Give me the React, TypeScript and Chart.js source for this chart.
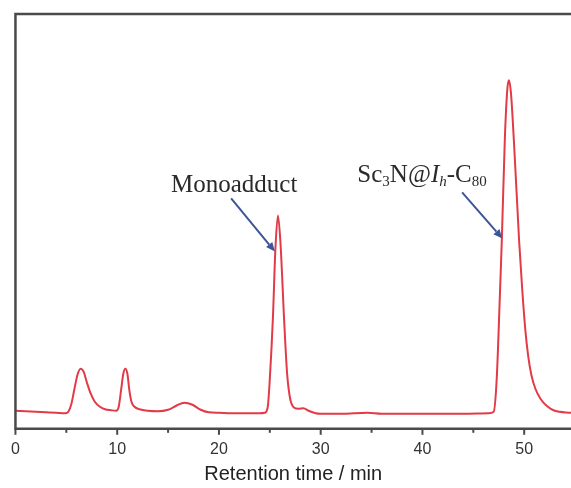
import React, { useEffect, useRef } from "react";
import { Chart, registerables } from "chart.js";

Chart.register(...registerables);

// Retention time (min)
const times = [0,1,2,3,4,4.9,5.2,5.5,5.8,6.1,6.4,6.7,7.0,7.4,7.8,8.3,8.8,9.4,9.9,10.15,10.4,10.6,10.8,11.0,11.2,11.4,11.7,12.2,13,14,15,15.8,16.6,17.4,18.2,19,20,22,24,24.5,24.8,25.0,25.3,25.55,25.8,26.05,26.4,26.7,27.0,27.4,27.8,28.3,28.8,29.5,30,32,34.6,36,40,44,46.5,47.0,47.3,47.6,47.8,48.1,48.35,48.5,48.7,49.0,49.5,49.8,50.1,50.4,50.7,51.1,51.6,52.2,53.0,54.6];
// Detector signal (a.u.)
const signal = [18,17.5,17,16.5,16,15.5,17,25,40,54,60,57,47,35,27,22,19.5,18.5,18,22,40,55,60,55,38,27,22,19.5,18,17.5,19,23,26,24,19,16.5,16,15.5,15.5,16,22,50,110,180,213,185,110,55,30,21,20,20.5,18,15.5,15,15,16,15,15,15,15.5,17,50,130,188,290,340,348,335,285,188,140,100,72,54,40,30,23,18,16];

const xTicksMajor = [0, 10, 20, 30, 40, 50];
const xTicksMinor = [5, 15, 25, 35, 45];

// Annotations: label position and arrow (data coordinates)
const annoMono = { text: "Monoadduct", x: 21.5, y: 243, ax0: 21.2, ay0: 230, ax1: 25.5, ay1: 177 };
const annoSc = { x: 33.6, y: 254, ax0: 43.9, ay0: 236, ax1: 47.85, ay1: 190 };

const AXIS_COLOR = "#4a4a4a";
const ARROW_COLOR = "#3c5596";
const TEXT_COLOR = "#2a2a2a";

function drawArrow(ctx: CanvasRenderingContext2D, x0: number, y0: number, x1: number, y1: number) {
  ctx.save();
  ctx.strokeStyle = ARROW_COLOR;
  ctx.fillStyle = ARROW_COLOR;
  ctx.lineWidth = 2;
  const ang = Math.atan2(y1 - y0, x1 - x0);
  const hl = 9;
  const hw = 4;
  const bx = x1 - hl * Math.cos(ang);
  const by = y1 - hl * Math.sin(ang);
  ctx.beginPath();
  ctx.moveTo(x0, y0);
  ctx.lineTo(bx, by);
  ctx.stroke();
  ctx.beginPath();
  ctx.moveTo(x1, y1);
  ctx.lineTo(bx + hw * Math.sin(ang), by - hw * Math.cos(ang));
  ctx.lineTo(bx - hw * Math.sin(ang), by + hw * Math.cos(ang));
  ctx.closePath();
  ctx.fill();
  ctx.restore();
}

const framePlugin = {
  id: "framePlugin",
  afterDraw(chart: any) {
    const ctx: CanvasRenderingContext2D = chart.ctx;
    const { left, top, right, bottom } = chart.chartArea;
    const xs = chart.scales.x;
    const ys = chart.scales.y;
    ctx.save();
    ctx.strokeStyle = AXIS_COLOR;
    ctx.lineWidth = 2.5;
    ctx.beginPath();
    ctx.moveTo(left, bottom + 1);
    ctx.lineTo(left, top);
    ctx.lineTo(right + 5, top);
    ctx.moveTo(left - 1, bottom);
    ctx.lineTo(right + 5, bottom);
    ctx.stroke();
    ctx.lineWidth = 2;
    for (const v of xTicksMajor) {
      const px = xs.getPixelForValue(v);
      ctx.beginPath();
      ctx.moveTo(px, bottom);
      ctx.lineTo(px, bottom + 6);
      ctx.stroke();
    }
    for (const v of xTicksMinor) {
      const px = xs.getPixelForValue(v);
      ctx.beginPath();
      ctx.moveTo(px, bottom);
      ctx.lineTo(px, bottom + 4);
      ctx.stroke();
    }
    ctx.restore();

    // Monoadduct label
    ctx.save();
    ctx.fillStyle = TEXT_COLOR;
    ctx.font = '25px "Liberation Serif", serif';
    ctx.textAlign = "center";
    ctx.textBaseline = "middle";
    ctx.fillText(annoMono.text, xs.getPixelForValue(annoMono.x), ys.getPixelForValue(annoMono.y));
    ctx.restore();
    drawArrow(ctx, xs.getPixelForValue(annoMono.ax0), ys.getPixelForValue(annoMono.ay0),
      xs.getPixelForValue(annoMono.ax1), ys.getPixelForValue(annoMono.ay1));

    // Sc3N@Ih-C80 label with sub/italic parts
    const parts: { t: string; sub?: boolean; it?: boolean }[] = [
      { t: "Sc" }, { t: "3", sub: true }, { t: "N@" }, { t: "I", it: true },
      { t: "h", sub: true, it: true }, { t: "-C" }, { t: "80", sub: true },
    ];
    ctx.save();
    ctx.fillStyle = TEXT_COLOR;
    ctx.textAlign = "left";
    ctx.textBaseline = "alphabetic";
    let x = xs.getPixelForValue(annoSc.x);
    const base = ys.getPixelForValue(annoSc.y) + 8;
    for (const p of parts) {
      const size = p.sub ? 15 : 25;
      ctx.font = `${p.it ? "italic " : ""}${size}px "Liberation Serif", serif`;
      ctx.fillText(p.t, x, base + (p.sub ? 4 : 0));
      x += ctx.measureText(p.t).width;
    }
    ctx.restore();
    drawArrow(ctx, xs.getPixelForValue(annoSc.ax0), ys.getPixelForValue(annoSc.ay0),
      xs.getPixelForValue(annoSc.ax1), ys.getPixelForValue(annoSc.ay1));
  },
};

export default function App() {
  const ref = useRef<HTMLCanvasElement | null>(null);
  useEffect(() => {
    if (!ref.current) return;
    const chart = new Chart(ref.current, {
      type: "line",
      data: {
        datasets: [
          {
            data: times.map((t, i) => ({ x: t, y: signal[i] })),
            borderColor: "rgb(226,58,70)",
            borderWidth: 2,
            pointRadius: 0,
            cubicInterpolationMode: "monotone",
            fill: false,
          },
        ],
      },
      options: {
        animation: false,
        responsive: false,
        maintainAspectRatio: false,
        layout: { padding: { left: 14, top: 14, right: 0, bottom: 2 } },
        plugins: { legend: { display: false }, tooltip: { enabled: false } },
        scales: {
          x: {
            type: "linear",
            min: 0,
            max: 54.6,
            grid: { display: false, drawTicks: false },
            border: { display: false },
            ticks: {
              stepSize: 10,
              includeBounds: false,
              autoSkip: false,
              maxRotation: 0,
              padding: 11,
              color: "#333",
              font: { family: '"Liberation Sans", Arial, sans-serif', size: 16 },
            },
            title: {
              display: true,
              text: "Retention time / min",
              color: "#222",
              font: { family: '"Liberation Sans", Arial, sans-serif', size: 20 },
              padding: { top: -8, bottom: 0 },
            },
          },
          y: {
            display: false,
            min: 0,
            max: 414,
          },
        },
      },
      plugins: [framePlugin],
    });
    return () => chart.destroy();
  }, []);
  return (
    <div style={{ position: "absolute", left: 0, top: 0, width: 571, height: 488, background: "#fff" }}>
      <canvas ref={ref} width={571} height={488} />
    </div>
  );
}
